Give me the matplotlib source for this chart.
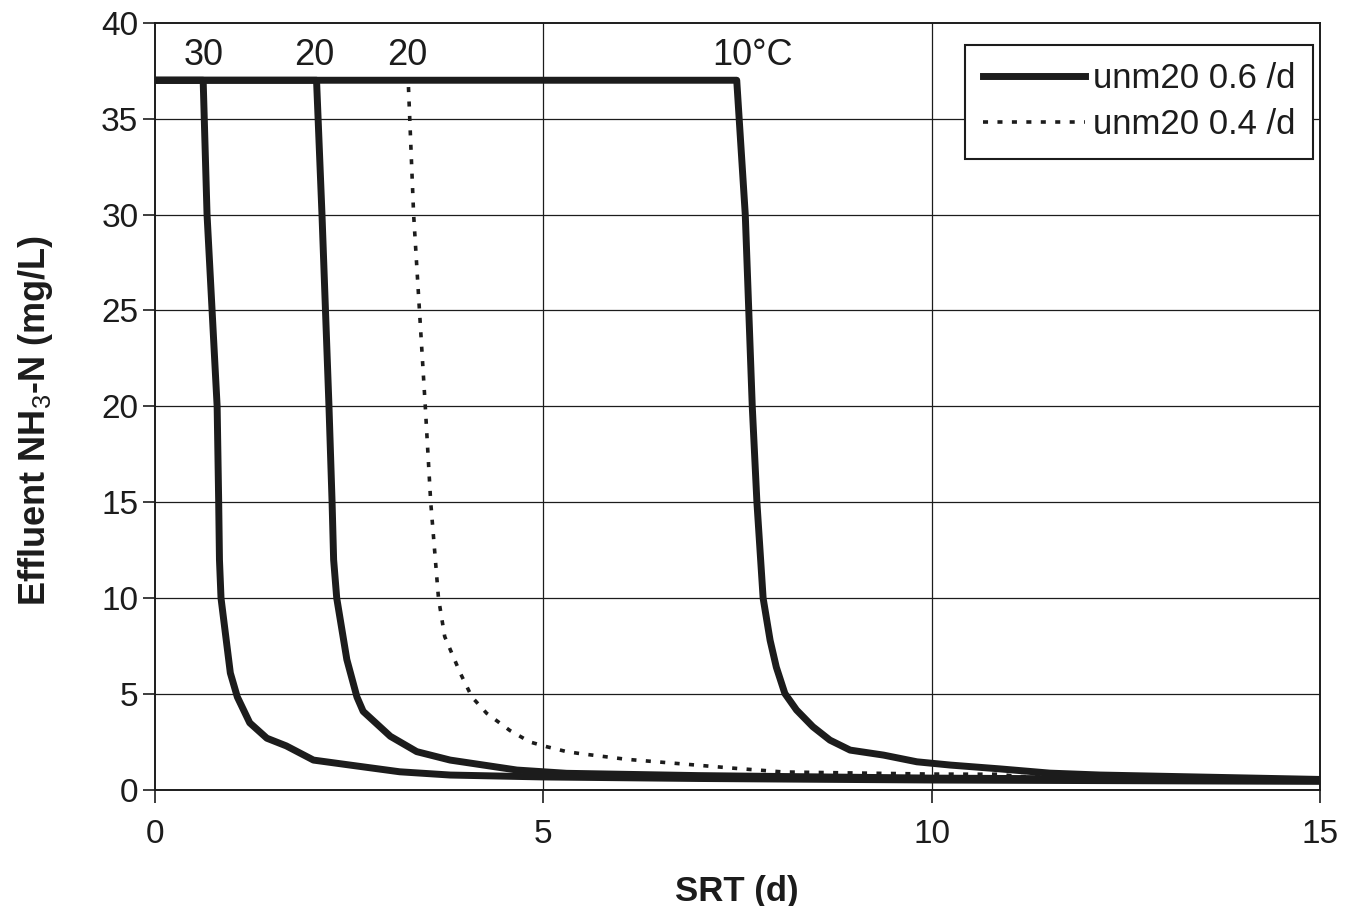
import matplotlib
matplotlib.use("Agg")
import matplotlib.pyplot as plt

plt.rcParams['font.family'] = ['Liberation Sans', 'DejaVu Sans']
plt.rcParams['mathtext.fontset'] = 'custom'
plt.rcParams['mathtext.rm'] = 'Liberation Sans'
plt.rcParams['mathtext.bf'] = 'Liberation Sans:bold'

# ---- data ----
x_30 = [0, 0.62, 0.67, 0.80, 0.82, 0.83, 0.85, 0.97, 1.06, 1.22, 1.44, 1.69, 2.04, 2.51, 3.15, 3.80, 5.0, 7.0, 10.0, 15.0]
y_30 = [37, 37, 30, 20, 15, 12, 10, 6.1, 4.85, 3.5, 2.7, 2.3, 1.56, 1.3, 0.95, 0.78, 0.68, 0.6, 0.52, 0.45]

x_20 = [0, 2.08, 2.15, 2.24, 2.28, 2.30, 2.34, 2.47, 2.60, 2.68, 3.03, 3.37, 3.80, 4.66, 5.30, 7.0, 10.0, 15.0]
y_20 = [37, 37, 30, 20, 15, 12, 10, 6.8, 4.85, 4.1, 2.8, 2.0, 1.56, 1.04, 0.87, 0.75, 0.62, 0.52]

x_20d = [0, 3.26, 3.33, 3.48, 3.55, 3.61, 3.65, 3.73, 3.93, 4.08, 4.27, 4.57, 4.83, 5.04, 5.30, 5.47, 6.07, 6.67, 7.44, 8.09, 10.0, 10.88, 11.1, 15.0]
y_20d = [37, 37, 30, 20, 15, 12, 10, 8.0, 6.1, 4.85, 4.0, 3.1, 2.5, 2.26, 2.0, 1.9, 1.6, 1.4, 1.14, 0.94, 0.83, 0.82, 0.7, 0.6]

x_10 = [0, 7.49, 7.60, 7.69, 7.75, 7.83, 7.92, 8.00, 8.11, 8.26, 8.47, 8.69, 8.95, 9.38, 9.81, 10.24, 10.88, 11.52, 12.17, 15.0]
y_10 = [37, 37, 30, 20, 15, 10, 7.8, 6.4, 5.03, 4.17, 3.3, 2.6, 2.08, 1.82, 1.47, 1.3, 1.1, 0.88, 0.78, 0.55]

curve_labels = ["30", "20", "20", "10°C"]
curve_label_x = [0.63, 2.05, 3.25, 7.69]
curve_label_y = 37.8

legend_labels = ["unm20 0.6 /d", "unm20 0.4 /d"]
x_ticks = [0, 5, 10, 15]
y_ticks = [0, 5, 10, 15, 20, 25, 30, 35, 40]

ink = '#1c1c1c'

fig = plt.figure(figsize=(13.49, 9.06), dpi=100)
ax = fig.add_axes([155/1349, 1 - 790/906, (1320-155)/1349, (790-22.7)/906])

ax.set_xlim(0, 15)
ax.set_ylim(0, 40)

# grid
for yv in y_ticks[1:-1]:
    ax.axhline(yv, color=ink, lw=0.9, zorder=1)
for xv in x_ticks[1:-1]:
    ax.axvline(xv, color=ink, lw=0.9, zorder=1)

l1, = ax.plot(x_30, y_30, color=ink, lw=5, solid_joinstyle='round', zorder=3)
ax.plot(x_20, y_20, color=ink, lw=5, solid_joinstyle='round', zorder=3)
ax.plot(x_10, y_10, color=ink, lw=5, solid_joinstyle='round', zorder=3)
l2, = ax.plot(x_20d, y_20d, color=ink, lw=2.6, linestyle=(0, (1.4, 2.6)), zorder=2)

for t, xv in zip(curve_labels, curve_label_x):
    ax.text(xv, curve_label_y, t, ha='center', va='baseline', fontsize=26, color=ink)

ax.set_xticks(x_ticks)
ax.set_yticks(y_ticks)
ax.tick_params(axis='both', direction='out', length=9, width=1.2, colors=ink, labelsize=24)
ax.tick_params(axis='x', pad=12)
ax.tick_params(axis='y', pad=3)
for s in ax.spines.values():
    s.set_color(ink)
    s.set_linewidth(1.4)

fig.text(737/1349, 1 - 891/906, "SRT (d)", ha='center', va='center', fontsize=25, fontweight='bold', color=ink)
fig.text(36/1349, 1 - 421/906, r"Effluent NH$_{\mathrm{3}}$-N (mg/L)", ha='center', va='center',
         rotation=90, fontsize=26, fontweight='bold', color=ink)

leg = ax.legend([l1, l2], legend_labels, loc='upper right', bbox_to_anchor=(0.994, 0.971),
                borderaxespad=0, fontsize=25, handlelength=2.95, handletextpad=0.23,
                labelspacing=0.37, borderpad=0.5, fancybox=False, framealpha=1)
leg.get_frame().set_edgecolor(ink)
leg.get_frame().set_linewidth(1.5)
for t in leg.get_texts():
    t.set_color(ink)

fig.savefig("out.png", dpi=100, facecolor='white')
